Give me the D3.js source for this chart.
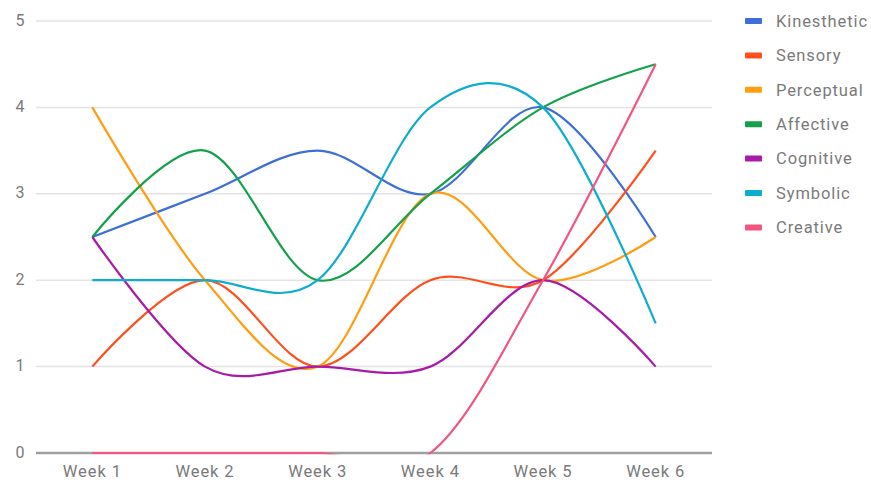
<!DOCTYPE html>
<html><head><meta charset="utf-8">
<script src="https://cdn.jsdelivr.net/npm/d3@7"></script>
<style>body{margin:0;background:#fff;font-family:Roboto,Arial,sans-serif;}</style>
</head><body><svg id="c" width="871" height="483"></svg>
<script>
const weeks = ["Week 1","Week 2","Week 3","Week 4","Week 5","Week 6"];
const seriesNames = ["Kinesthetic","Sensory","Perceptual","Affective","Cognitive","Symbolic","Creative"];
const kinesthetic = [2.5, 3, 3.5, 3, 4, 2.5];
const sensory     = [1, 2, 1, 2, 2, 3.5];
const perceptual  = [4, 2, 1, 3, 2, 2.5];
const affective   = [2.5, 3.5, 2, 3, 4, 4.5];
const cognitive   = [2.5, 1, 1, 1, 2, 1];
const symbolic    = [2, 2, 2, 4, 4, 1.5];
const creative    = [0, 0, 0, 0, 2, 4.5];
const yTicks = [0, 1, 2, 3, 4, 5];
const colors = ["#3d6fd6","#ff4f1c","#ff9e12","#13a14a","#a61ca8","#0eadcd","#f2557f"];
const values = [kinesthetic, sensory, perceptual, affective, cognitive, symbolic, creative];

const svg = d3.select("#c");
const pLeft = 36, pRight = 712, pTop = 21, pBottom = 453;
const x = d3.scalePoint().domain(weeks).range([pLeft, pRight]).padding(0.5);
const y = d3.scaleLinear().domain([0, 5]).range([pBottom, pTop]);

// gridlines
svg.append("g").selectAll("line").data(yTicks.filter(d => d > 0)).join("line")
  .attr("x1", pLeft).attr("x2", pRight)
  .attr("y1", d => y(d)).attr("y2", d => y(d))
  .attr("stroke", "#e3e3e3").attr("stroke-width", 1.5);

// y labels
svg.append("g").selectAll("text").data(yTicks).join("text")
  .attr("x", 20).attr("y", d => y(d) - 1).attr("dy", "0.35em")
  .attr("text-anchor", "middle").attr("font-size", 16).attr("fill", "#7a7a7a")
  .text(d => d);

// x labels
svg.append("g").selectAll("text").data(weeks).join("text")
  .attr("x", d => x(d)).attr("y", 477)
  .attr("text-anchor", "middle").attr("font-size", 16.5).attr("letter-spacing", 0.9)
  .attr("fill", "#7a7a7a")
  .text(d => d);

// baseline
svg.append("line").attr("x1", pLeft).attr("x2", pRight)
  .attr("y1", y(0)).attr("y2", y(0))
  .attr("stroke", "#a0a0a0").attr("stroke-width", 2.5);

svg.append("clipPath").attr("id", "clip").append("rect")
  .attr("x", pLeft).attr("y", 0).attr("width", pRight - pLeft).attr("height", pBottom + 1.2);

const line = d3.line()
  .x((d, i) => x(weeks[i]))
  .y(d => y(d))
  .curve(d3.curveCardinal.tension(0));

svg.append("g").attr("clip-path", "url(#clip)").selectAll("path").data(values).join("path")
  .attr("d", d => line(d))
  .attr("fill", "none")
  .attr("stroke", (d, i) => colors[i])
  .attr("stroke-width", 2.2)
  .attr("stroke-linejoin", "round");

// legend
const lg = svg.append("g").selectAll("g").data(seriesNames).join("g")
  .attr("transform", (d, i) => `translate(745, ${21 + i * 34.4})`);
lg.append("rect").attr("x", 0).attr("y", -3).attr("width", 17).attr("height", 6)
  .attr("rx", 1).attr("fill", (d, i) => colors[i]);
lg.append("text").attr("x", 31).attr("y", 0).attr("dy", "0.35em")
  .attr("font-size", 16.5).attr("letter-spacing", 0.9)
  .attr("fill", "#7a7a7a").text(d => d);
</script></body></html>
